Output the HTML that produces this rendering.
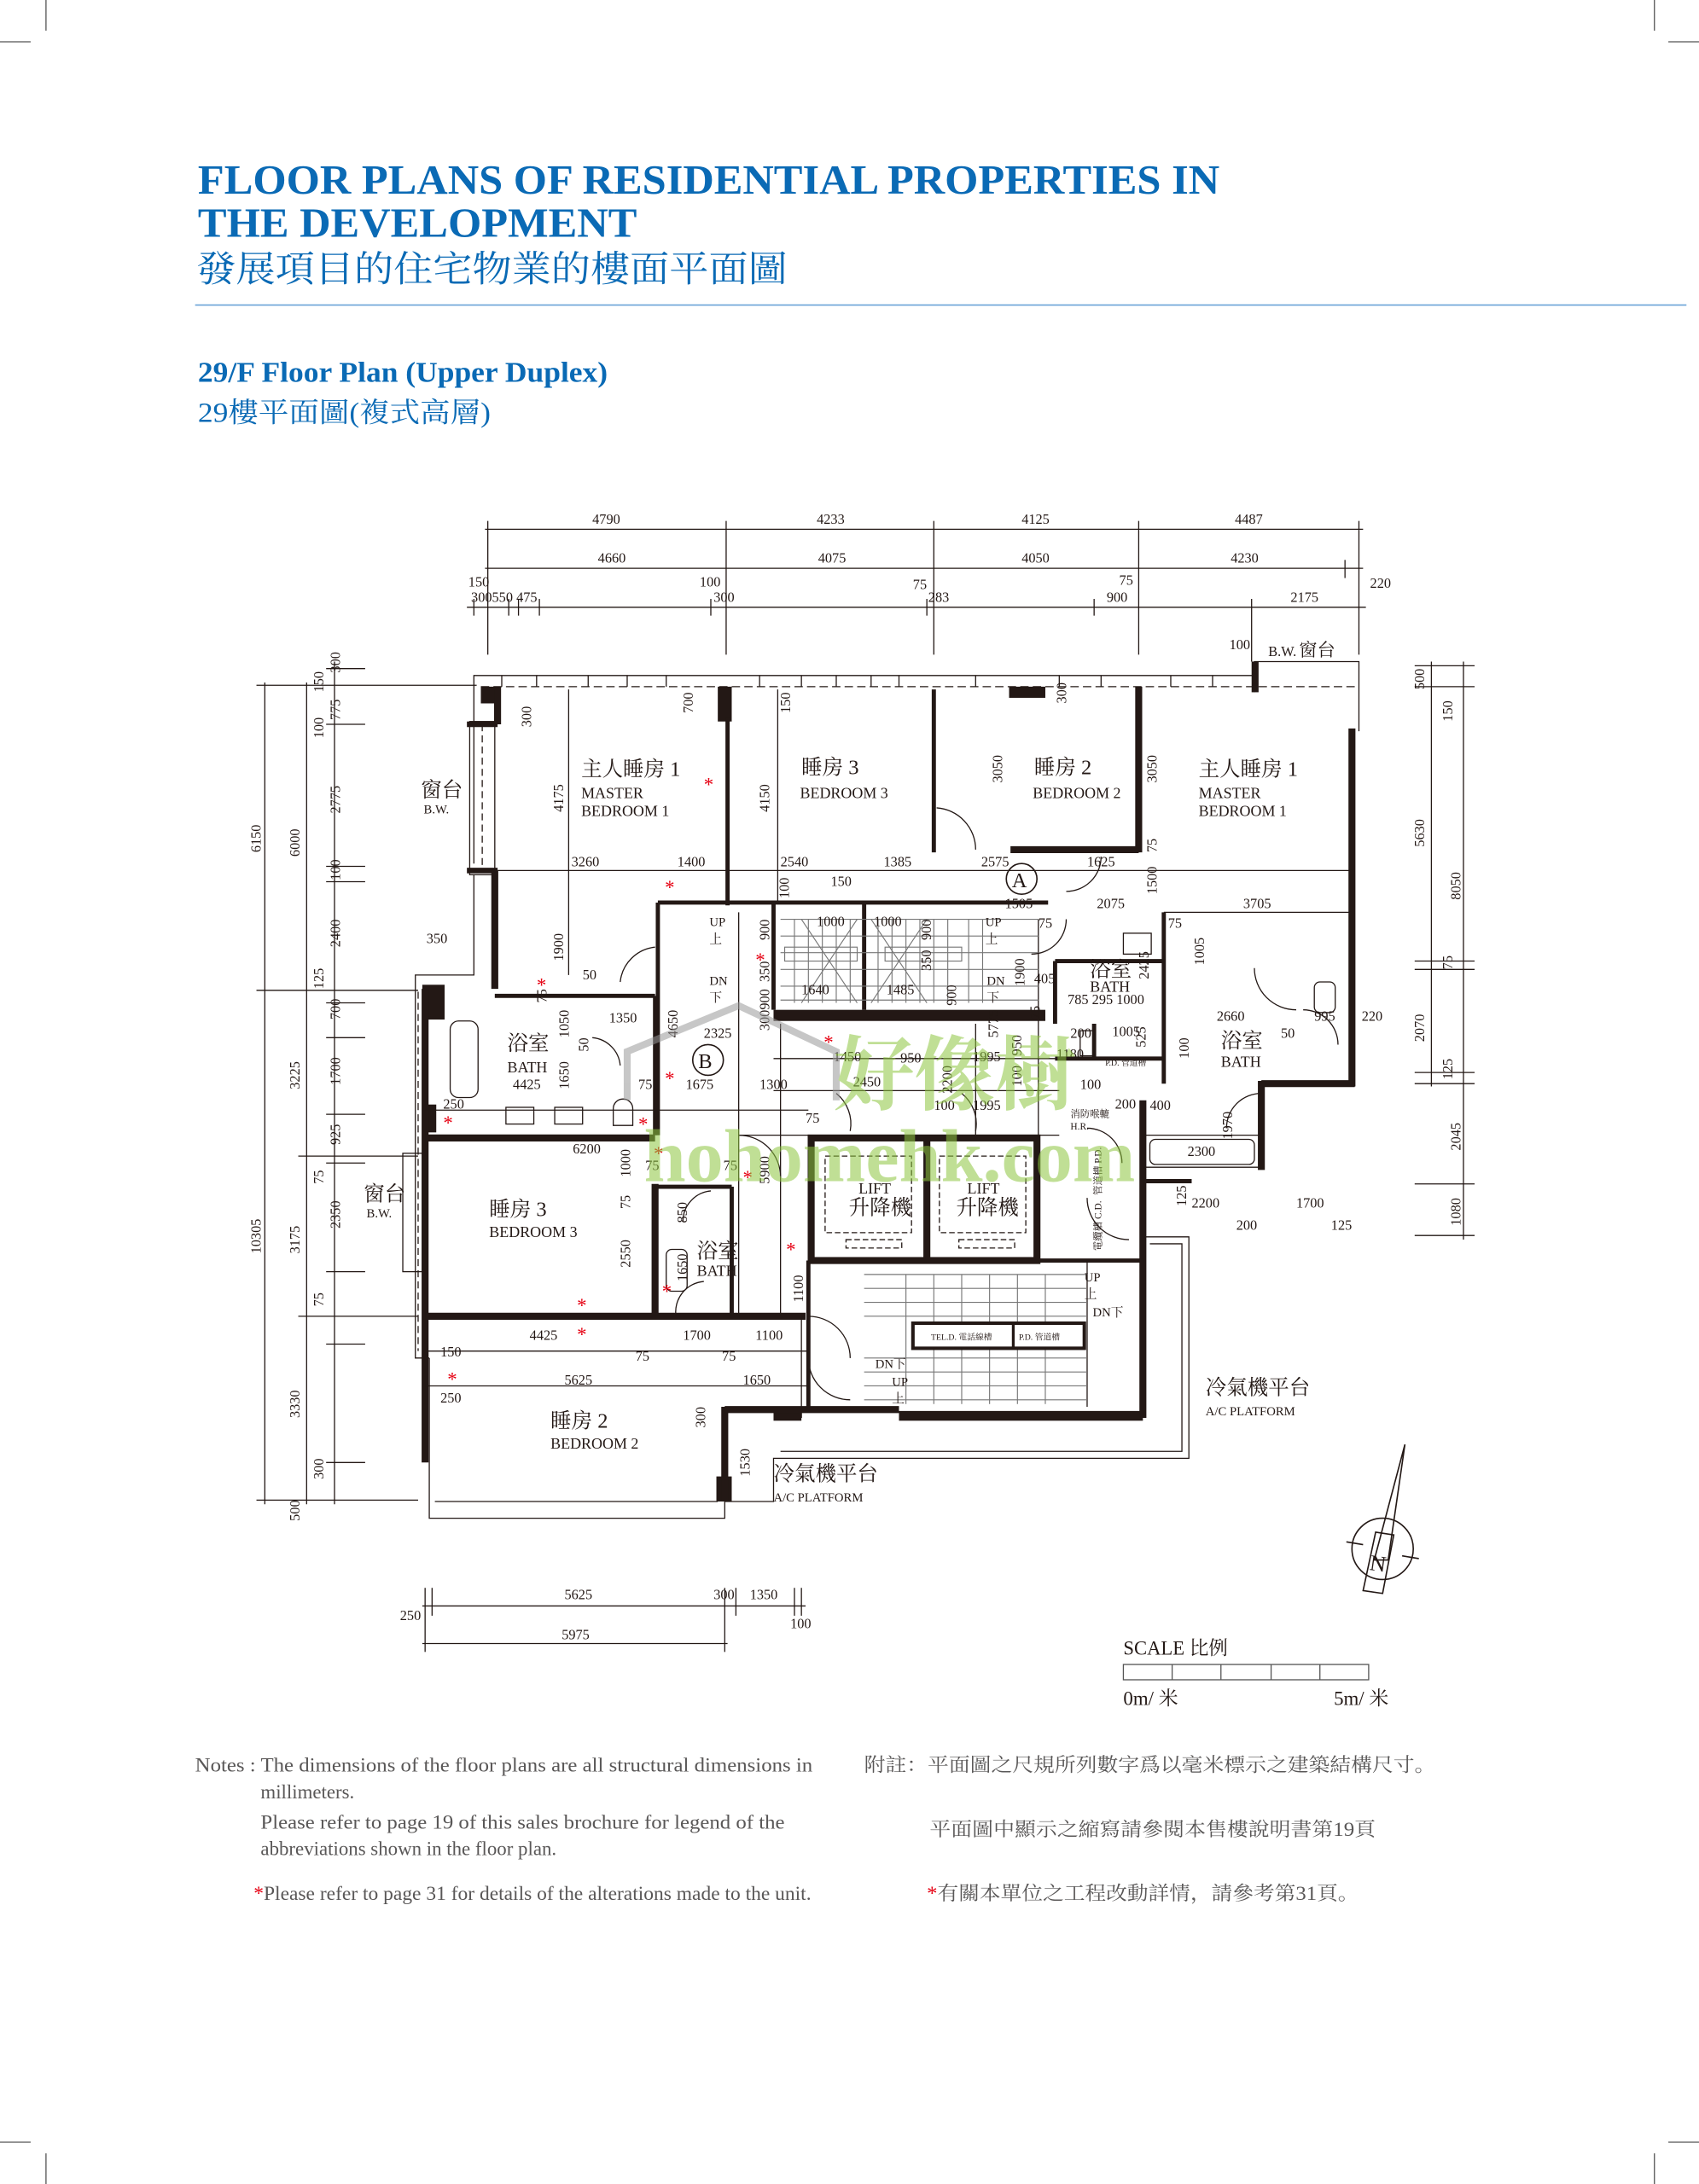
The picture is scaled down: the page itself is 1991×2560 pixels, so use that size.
<!DOCTYPE html>
<html><head><meta charset="utf-8"><style>
html,body{margin:0;padding:0;background:#fff}
svg{display:block}
text{font-family:"Liberation Serif","Noto Serif CJK SC","Noto Sans CJK TC",serif}
.d{font-size:10px;fill:#231815}
.rm{font-size:15px;fill:#231815}
.en{font-size:11px;fill:#231815}
.w{stroke:#231815;stroke-width:5;fill:none}
.w3{stroke:#231815;stroke-width:3;fill:none}
.t{stroke:#231815;stroke-width:0.8;fill:none}
.g{stroke:#777;stroke-width:0.7;fill:none}
.r{fill:#e60012;font-size:14px}
</style></head><body>
<svg width="1991" height="2560" viewBox="0 0 1219 1568" preserveAspectRatio="none" xmlns="http://www.w3.org/2000/svg">
<!-- crop marks -->
<g stroke="#555" stroke-width="0.8">
<line x1="33" y1="0" x2="33" y2="22"/><line x1="0" y1="30" x2="22" y2="30"/>
<line x1="1187" y1="0" x2="1187" y2="22"/><line x1="1197" y1="30" x2="1219" y2="30"/>
<line x1="33" y1="1546" x2="33" y2="1568"/><line x1="0" y1="1538" x2="22" y2="1538"/>
<line x1="1187" y1="1546" x2="1187" y2="1568"/><line x1="1197" y1="1538" x2="1219" y2="1538"/>
</g>
<!-- header -->
<g fill="#0a6ab5" font-weight="bold">
<text x="142" y="139" font-size="30" textLength="733" lengthAdjust="spacingAndGlyphs">FLOOR PLANS OF RESIDENTIAL PROPERTIES IN</text>
<text x="142" y="170" font-size="30" textLength="315" lengthAdjust="spacingAndGlyphs">THE DEVELOPMENT</text>
</g>
<text x="141" y="202" font-size="26" fill="#0a6ab5" textLength="424" lengthAdjust="spacingAndGlyphs">發展項目的住宅物業的樓面平面圖</text>
<line x1="140" y1="219" x2="1210" y2="219" stroke="#6aa3d8" stroke-width="1"/>
<text x="142" y="274" font-size="21" font-weight="bold" fill="#0a6ab5" textLength="294" lengthAdjust="spacingAndGlyphs">29/F Floor Plan (Upper Duplex)</text>
<text x="142" y="303" font-size="20" fill="#0a6ab5" textLength="210" lengthAdjust="spacingAndGlyphs">29樓平面圖(複式高層)</text>

<!-- top dimension chains -->
<g class="t">
<line x1="348" y1="380" x2="978" y2="380"/><line x1="348" y1="408" x2="978" y2="408"/><line x1="335" y1="436" x2="980" y2="436"/>
<line x1="350" y1="374" x2="350" y2="470"/><line x1="521" y1="374" x2="521" y2="470"/><line x1="670" y1="374" x2="670" y2="470"/><line x1="817" y1="374" x2="817" y2="470"/><line x1="975" y1="374" x2="975" y2="470"/><line x1="965" y1="402" x2="965" y2="415"/>
<line x1="340" y1="430" x2="340" y2="442"/><line x1="365" y1="430" x2="365" y2="442"/><line x1="372" y1="430" x2="372" y2="442"/><line x1="387" y1="430" x2="387" y2="442"/><line x1="510" y1="430" x2="510" y2="442"/><line x1="665" y1="430" x2="665" y2="442"/><line x1="785" y1="430" x2="785" y2="442"/><line x1="898" y1="430" x2="898" y2="475"/>
</g>
<g class="d">
<text x="425" y="376">4790</text><text x="586" y="376">4233</text><text x="733" y="376">4125</text><text x="886" y="376">4487</text>
<text x="429" y="404">4660</text><text x="587" y="404">4075</text><text x="733" y="404">4050</text><text x="883" y="404">4230</text>
<text x="336" y="421">150</text><text x="338" y="432">300550 475</text><text x="502" y="421">100</text><text x="512" y="432">300</text><text x="655" y="423">75</text><text x="666" y="432">283</text><text x="803" y="420">75</text><text x="794" y="432">900</text><text x="926" y="432">2175</text><text x="983" y="422">220</text>
<text x="882" y="466">100</text><text x="910" y="471">B.W.</text></g>
<text x="932" y="471" font-size="13" fill="#231815">窗台</text>

<!-- left dimension chains -->
<g class="t">
<line x1="190" y1="490" x2="190" y2="1080"/><line x1="220" y1="490" x2="220" y2="1080"/><line x1="240" y1="475" x2="240" y2="1080"/>
<line x1="184" y1="492" x2="342" y2="492"/><line x1="184" y1="711" x2="300" y2="711"/><line x1="184" y1="1077" x2="300" y2="1077"/>
<line x1="214" y1="830" x2="300" y2="830"/><line x1="214" y1="945" x2="300" y2="945"/>
<line x1="234" y1="480" x2="262" y2="480"/><line x1="234" y1="520" x2="262" y2="520"/><line x1="234" y1="622" x2="262" y2="622"/><line x1="234" y1="633" x2="262" y2="633"/><line x1="234" y1="720" x2="262" y2="720"/><line x1="234" y1="745" x2="262" y2="745"/><line x1="234" y1="800" x2="262" y2="800"/><line x1="234" y1="835" x2="262" y2="835"/><line x1="234" y1="913" x2="262" y2="913"/><line x1="234" y1="965" x2="262" y2="965"/><line x1="234" y1="1050" x2="262" y2="1050"/>
</g>
<g class="d">
<text transform="translate(187,612) rotate(-90)">6150</text><text transform="translate(187,900) rotate(-90)">10305</text>
<text transform="translate(215,615) rotate(-90)">6000</text><text transform="translate(215,782) rotate(-90)">3225</text><text transform="translate(215,900) rotate(-90)">3175</text><text transform="translate(215,1018) rotate(-90)">3330</text><text transform="translate(215,1092) rotate(-90)">500</text>
<text transform="translate(244,483) rotate(-90)">300</text><text transform="translate(232,497) rotate(-90)">150</text><text transform="translate(244,517) rotate(-90)">775</text><text transform="translate(232,530) rotate(-90)">100</text><text transform="translate(244,584) rotate(-90)">2775</text><text transform="translate(244,632) rotate(-90)">100</text><text transform="translate(244,680) rotate(-90)">2400</text><text transform="translate(232,710) rotate(-90)">125</text><text transform="translate(244,732) rotate(-90)">700</text><text transform="translate(244,779) rotate(-90)">1700</text><text transform="translate(244,822) rotate(-90)">925</text><text transform="translate(232,850) rotate(-90)">75</text><text transform="translate(244,882) rotate(-90)">2350</text><text transform="translate(232,938) rotate(-90)">75</text><text transform="translate(232,1062) rotate(-90)">300</text>
</g>

<!-- right dimension chains -->
<g class="t">
<line x1="1027" y1="475" x2="1027" y2="780"/><line x1="1050" y1="475" x2="1050" y2="890"/>
<line x1="1015" y1="478" x2="1058" y2="478"/><line x1="1015" y1="493" x2="1058" y2="493"/><line x1="1015" y1="690" x2="1058" y2="690"/><line x1="1015" y1="696" x2="1058" y2="696"/><line x1="1015" y1="770" x2="1058" y2="770"/><line x1="1015" y1="778" x2="1058" y2="778"/><line x1="1015" y1="850" x2="1058" y2="850"/><line x1="1015" y1="887" x2="1058" y2="887"/>
</g>
<g class="d">
<text transform="translate(1022,495) rotate(-90)">500</text><text transform="translate(1042,518) rotate(-90)">150</text><text transform="translate(1022,608) rotate(-90)">5630</text><text transform="translate(1048,646) rotate(-90)">8050</text><text transform="translate(1042,696) rotate(-90)">75</text><text transform="translate(1022,748) rotate(-90)">2070</text><text transform="translate(1042,775) rotate(-90)">125</text><text transform="translate(1048,826) rotate(-90)">2045</text><text transform="translate(1048,880) rotate(-90)">1080</text>
</g>

<!-- bottom dimension chains -->
<g class="t">
<line x1="303" y1="1153" x2="578" y2="1153"/><line x1="303" y1="1180" x2="522" y2="1180"/>
<line x1="305" y1="1140" x2="305" y2="1186"/><line x1="310" y1="1140" x2="310" y2="1160"/><line x1="520" y1="1140" x2="520" y2="1186"/><line x1="528" y1="1140" x2="528" y2="1160"/><line x1="570" y1="1140" x2="570" y2="1160"/><line x1="575" y1="1140" x2="575" y2="1160"/>
</g>

<!-- PLAN: outer thin lines -->
<g class="t">
<polyline points="340,620 340,485 900,485"/>
<line x1="345" y1="493" x2="975" y2="493" stroke-dasharray="6,3"/>
<polyline points="900,497 900,475 975,475 975,525"/>
<rect x="337" y="518" width="18" height="110"/><line x1="346" y1="520" x2="346" y2="625" stroke-dasharray="5,3"/>
<polyline points="340,628 340,700 298,700 298,975 308,975"/>
<line x1="300" y1="712" x2="300" y2="970" stroke-dasharray="5,3"/>
<rect x="289" y="828" width="14" height="85"/>
<polyline points="308,975 308,1090 520,1090 520,1078"/>
<line x1="312" y1="1078" x2="515" y2="1078"/>
<polyline points="820,888 853,888 853,1047 555,1047 555,1078 520,1078"/>
<polyline points="825,893 848,893 848,1042 560,1042"/>
<line x1="575" y1="945" x2="575" y2="1018"/>
</g>
<!-- ticks along top -->
<g class="t"><line x1="360" y1="485" x2="360" y2="493"/><line x1="385" y1="485" x2="385" y2="493"/><line x1="422" y1="485" x2="422" y2="493"/><line x1="450" y1="485" x2="450" y2="493"/><line x1="478" y1="485" x2="478" y2="493"/><line x1="545" y1="485" x2="545" y2="493"/><line x1="575" y1="485" x2="575" y2="493"/><line x1="600" y1="485" x2="600" y2="493"/><line x1="625" y1="485" x2="625" y2="493"/><line x1="645" y1="485" x2="645" y2="493"/><line x1="700" y1="485" x2="700" y2="493"/><line x1="760" y1="485" x2="760" y2="493"/><line x1="790" y1="485" x2="790" y2="493"/><line x1="840" y1="485" x2="840" y2="493"/><line x1="870" y1="485" x2="870" y2="493"/></g>

<!-- thick walls -->
<g fill="#231815">
<rect x="345" y="493" width="14" height="12"/><rect x="335" y="518" width="22" height="4"/><rect x="335" y="623" width="22" height="4"/>
<rect x="515" y="493" width="10" height="25"/><rect x="724" y="493" width="26" height="8"/><rect x="898" y="475" width="5" height="22"/>
<rect x="303" y="707" width="16" height="25"/><rect x="303" y="793" width="10" height="20"/>
<rect x="514" y="1060" width="11" height="18"/>
<rect x="555" y="725" width="195" height="8"/>
<rect x="645" y="1013" width="175" height="7"/>
<rect x="555" y="1013" width="20" height="7"/>
</g>
<g class="w">
<line x1="357" y1="493" x2="357" y2="520"/><line x1="355" y1="625" x2="355" y2="710"/>
<line x1="305" y1="710" x2="305" y2="1050"/>
<line x1="305" y1="817" x2="470" y2="817"/>
<line x1="305" y1="945" x2="578" y2="945"/>
<line x1="520" y1="1010" x2="520" y2="1078"/><line x1="520" y1="1012" x2="645" y2="1012"/>
<line x1="970" y1="523" x2="970" y2="780"/>
<line x1="905" y1="778" x2="972" y2="778"/><line x1="905" y1="776" x2="905" y2="840"/>
<line x1="820" y1="790" x2="820" y2="1018"/>
<rect x="582" y="817" width="162" height="88"/>
<line x1="665" y1="817" x2="665" y2="905"/>
<line x1="817" y1="493" x2="817" y2="612"/><line x1="725" y1="610" x2="817" y2="610"/>
<line x1="470" y1="850" x2="470" y2="945"/>
</g>
<g class="w3">
<line x1="522" y1="515" x2="522" y2="650"/><line x1="670" y1="495" x2="670" y2="612"/>
<line x1="472" y1="648" x2="752" y2="648"/><line x1="472" y1="648" x2="472" y2="815"/>
<line x1="555" y1="648" x2="555" y2="725"/><line x1="620" y1="648" x2="620" y2="725"/>
<line x1="835" y1="655" x2="835" y2="778"/>
<line x1="757" y1="690" x2="835" y2="690"/><line x1="757" y1="690" x2="757" y2="735"/>
<line x1="470" y1="852" x2="525" y2="852"/><line x1="525" y1="852" x2="525" y2="945"/>
<line x1="820" y1="848" x2="855" y2="848"/>
<line x1="745" y1="905" x2="820" y2="905"/>
<line x1="580" y1="905" x2="580" y2="1010"/>
<line x1="355" y1="715" x2="470" y2="715"/><line x1="470" y1="715" x2="470" y2="815"/>
<line x1="757" y1="760" x2="835" y2="760"/><line x1="785" y1="735" x2="785" y2="760"/>
</g>
<!-- thin interior grid / stairs -->
<g class="t">
<line x1="357" y1="625" x2="970" y2="625"/>
<line x1="835" y1="655" x2="970" y2="655"/>
<line x1="305" y1="797" x2="580" y2="797"/>
<line x1="305" y1="970" x2="580" y2="970"/><line x1="305" y1="995" x2="580" y2="995"/>
<line x1="555" y1="760" x2="760" y2="760"/>
<line x1="555" y1="783" x2="760" y2="783"/>
<line x1="530" y1="815" x2="760" y2="815"/>
<line x1="820" y1="815" x2="905" y2="815"/><line x1="820" y1="838" x2="905" y2="838"/>
<line x1="408" y1="495" x2="408" y2="700"/><line x1="558" y1="495" x2="558" y2="648"/>
<line x1="530" y1="655" x2="530" y2="945"/><line x1="560" y1="735" x2="560" y2="945"/>
<line x1="700" y1="735" x2="700" y2="815"/><line x1="745" y1="660" x2="745" y2="815"/>
<line x1="780" y1="905" x2="780" y2="1010"/>
</g>
<g class="g">
<line x1="560" y1="660" x2="745" y2="660"/><line x1="560" y1="672" x2="745" y2="672"/><line x1="560" y1="684" x2="745" y2="684"/><line x1="560" y1="696" x2="745" y2="696"/><line x1="560" y1="708" x2="745" y2="708"/><line x1="560" y1="718" x2="745" y2="718"/>
<rect x="563" y="680" width="52" height="10"/><rect x="635" y="680" width="55" height="10"/>
<line x1="570" y1="660" x2="570" y2="720"/><line x1="580" y1="660" x2="580" y2="720"/><line x1="590" y1="660" x2="590" y2="720"/><line x1="600" y1="660" x2="600" y2="720"/><line x1="610" y1="660" x2="610" y2="720"/>
<line x1="630" y1="660" x2="630" y2="720"/><line x1="640" y1="660" x2="640" y2="720"/><line x1="650" y1="660" x2="650" y2="720"/><line x1="660" y1="660" x2="660" y2="720"/><line x1="670" y1="660" x2="670" y2="720"/><line x1="680" y1="660" x2="680" y2="720"/><line x1="695" y1="660" x2="695" y2="720"/><line x1="705" y1="660" x2="705" y2="720"/>
<line x1="575" y1="660" x2="615" y2="720"/><line x1="615" y1="660" x2="575" y2="720"/><line x1="625" y1="660" x2="665" y2="720"/><line x1="665" y1="660" x2="625" y2="720"/>
<line x1="620" y1="915" x2="780" y2="915"/><line x1="620" y1="925" x2="780" y2="925"/><line x1="620" y1="935" x2="780" y2="935"/><line x1="620" y1="945" x2="780" y2="945"/><line x1="620" y1="975" x2="780" y2="975"/><line x1="620" y1="985" x2="780" y2="985"/><line x1="620" y1="995" x2="780" y2="995"/><line x1="620" y1="1005" x2="780" y2="1005"/>
<line x1="650" y1="915" x2="650" y2="1008"/><line x1="670" y1="915" x2="670" y2="1008"/><line x1="690" y1="915" x2="690" y2="1008"/><line x1="710" y1="915" x2="710" y2="1008"/><line x1="730" y1="915" x2="730" y2="1008"/><line x1="750" y1="915" x2="750" y2="1008"/>
</g>
<rect x="655" y="950" width="123" height="18" fill="#fff" stroke="#231815" stroke-width="2.5"/>
<line x1="727" y1="950" x2="727" y2="968" stroke="#231815" stroke-width="2"/>
<!-- lift inner dashed -->
<g class="t" stroke-dasharray="4,2"><rect x="592" y="830" width="62" height="55"/><rect x="674" y="830" width="62" height="55"/><rect x="607" y="890" width="40" height="6"/><rect x="688" y="890" width="40" height="6"/></g>
<!-- doors -->
<g class="t">
<path d="M672,580 A30,30 0 0 1 700,610"/><path d="M470,680 A28,28 0 0 0 445,705"/><path d="M530,815 A30,30 0 0 1 560,845"/>
<path d="M600,785 A28,28 0 0 1 610,812"/><path d="M690,785 A28,28 0 0 1 700,812"/><path d="M780,810 A25,25 0 0 1 805,835"/>
<path d="M580,945 A30,30 0 0 1 610,975"/><path d="M580,975 A30,30 0 0 0 610,1005"/><path d="M780,860 A30,30 0 0 0 810,890"/>
<path d="M900,695 A30,30 0 0 0 930,725"/><path d="M905,785 A25,25 0 0 0 880,810"/><path d="M935,725 A25,25 0 0 1 960,750"/>
<path d="M510,855 A22,22 0 0 0 490,877"/><path d="M505,920 A22,22 0 0 0 485,945"/><path d="M425,745 A22,22 0 0 1 445,765"/>
<path d="M765,660 A25,25 0 0 1 740,685"/><path d="M790,615 A25,25 0 0 1 765,640"/>
</g>
<!-- fixtures -->
<g class="t">
<rect x="323" y="733" width="20" height="55" rx="6"/><rect x="363" y="795" width="20" height="12"/><rect x="398" y="795" width="20" height="12"/><path d="M440,808 v-12 a7,7 0 0 1 14,0 v12z"/>
<rect x="943" y="705" width="15" height="22" rx="4"/><rect x="806" y="670" width="20" height="15"/>
<rect x="825" y="818" width="75" height="18" rx="4"/>
<rect x="478" y="897" width="15" height="30" rx="4"/>
<rect x="775" y="740" width="10" height="18"/>
</g>
<circle cx="733" cy="631" r="11" fill="none" stroke="#231815" stroke-width="1"/><text x="726" y="637" font-size="15" fill="#231815" font-family="Liberation Sans">A</text>
<circle cx="508" cy="761" r="11" fill="none" stroke="#231815" stroke-width="1"/><text x="501" y="767" font-size="15" fill="#231815" font-family="Liberation Sans">B</text>

<!-- room labels -->
<g class="rm">
<text x="417" y="557">主人睡房 1</text><text x="575" y="556">睡房 3</text><text x="742" y="556">睡房 2</text><text x="860" y="557">主人睡房 1</text>
<text x="302" y="572">窗台</text><text x="261" y="862">窗台</text>
<text x="364" y="754">浴室</text><text x="782" y="701">浴室</text><text x="876" y="752">浴室</text><text x="500" y="903">浴室</text>
<text x="351" y="873">睡房 3</text><text x="395" y="1025">睡房 2</text>
<text x="865" y="1001">冷氣機平台</text><text x="555" y="1063">冷氣機平台</text>
<text x="609" y="872">升降機</text><text x="686" y="872">升降機</text>
</g>
<g class="en">
<text x="417" y="573">MASTER</text><text x="417" y="586">BEDROOM 1</text><text x="574" y="573">BEDROOM 3</text><text x="741" y="573">BEDROOM 2</text><text x="860" y="573">MASTER</text><text x="860" y="586">BEDROOM 1</text>
<text x="364" y="770">BATH</text><text x="782" y="712">BATH</text><text x="876" y="766">BATH</text><text x="500" y="916">BATH</text>
<text x="351" y="888">BEDROOM 3</text><text x="395" y="1040">BEDROOM 2</text>
<text x="616" y="857">LIFT</text><text x="694" y="857">LIFT</text>
</g>
<g font-size="9" fill="#231815"><text x="304" y="584">B.W.</text><text x="263" y="874">B.W.</text><text x="865" y="1016">A/C PLATFORM</text><text x="555" y="1078">A/C PLATFORM</text>
<text x="509" y="665">UP</text><text x="509" y="677">上</text><text x="707" y="665">UP</text><text x="707" y="677">上</text><text x="509" y="707">DN</text><text x="509" y="719">下</text><text x="708" y="707">DN</text><text x="708" y="719">下</text>
<text x="778" y="920">UP</text><text x="778" y="932">上</text><text x="784" y="945">DN下</text><text x="628" y="982">DN下</text><text x="640" y="995">UP</text><text x="640" y="1007">上</text>
<text x="768" y="802" font-size="7">消防喉轆</text><text x="768" y="811" font-size="7">H.R.</text>
</g>
<g font-size="6" fill="#231815"><text x="668" y="962">TEL.D. 電話線槽</text><text x="731" y="962">P.D. 管道槽</text><text x="793" y="765">P.D. 管道槽</text></g>

<!-- interior dims -->
<g class="d">
<text x="410" y="622">3260</text><text x="486" y="622">1400</text><text x="560" y="622">2540</text><text x="634" y="622">1385</text><text x="704" y="622">2575</text><text x="780" y="622">1625</text><text x="596" y="636">150</text>
<text x="721" y="652">1505</text><text x="787" y="652">2075</text><text x="892" y="652">3705</text><text x="745" y="666">75</text><text x="838" y="666">75</text>
<text x="586" y="665">1000</text><text x="627" y="665">1000</text><text x="575" y="714">1640</text><text x="636" y="714">1485</text>
<text x="306" y="677">350</text><text x="418" y="703">50</text><text x="437" y="734">1350</text><text x="368" y="782">4425</text><text x="505" y="745">2325</text><text x="492" y="782">1675</text><text x="545" y="782">1300</text><text x="458" y="782">75</text>
<text x="598" y="762">1450</text><text x="646" y="763">950</text><text x="612" y="780">2450</text><text x="698" y="762">1995</text><text x="670" y="797">100</text><text x="698" y="797">1995</text>
<text x="742" y="706">405</text><text x="766" y="721">785 295 1000</text><text x="768" y="745">200</text><text x="798" y="744">1005</text><text x="758" y="760">1180</text><text x="775" y="782">100</text><text x="800" y="796">200</text><text x="825" y="797">400</text>
<text x="873" y="733">2660</text><text x="919" y="745">50</text><text x="943" y="733">995</text><text x="977" y="733">220</text><text x="852" y="830">2300</text>
<text x="855" y="867">2200</text><text x="930" y="867">1700</text><text x="887" y="883">200</text><text x="955" y="883">125</text>
<text x="411" y="828">6200</text><text x="318" y="796">250</text><text x="578" y="806">75</text>
<text x="380" y="962">4425</text><text x="490" y="962">1700</text><text x="542" y="962">1100</text><text x="456" y="977">75</text><text x="518" y="977">75</text><text x="316" y="974">150</text>
<text x="405" y="994">5625</text><text x="533" y="994">1650</text><text x="316" y="1007">250</text>
<text x="463" y="840">75</text><text x="519" y="840">75</text>
<text x="405" y="1148">5625</text><text x="512" y="1148">300</text><text x="538" y="1148">1350</text><text x="287" y="1163">250</text><text x="567" y="1169">100</text><text x="403" y="1177">5975</text>
</g>
<g class="d">
<text transform="translate(381,522) rotate(-90)">300</text><text transform="translate(497,512) rotate(-90)">700</text><text transform="translate(567,512) rotate(-90)">150</text><text transform="translate(765,505) rotate(-90)">300</text>
<text transform="translate(404,583) rotate(-90)">4175</text><text transform="translate(552,583) rotate(-90)">4150</text><text transform="translate(719,562) rotate(-90)">3050</text><text transform="translate(830,562) rotate(-90)">3050</text><text transform="translate(830,612) rotate(-90)">75</text><text transform="translate(830,642) rotate(-90)">1500</text>
<text transform="translate(404,690) rotate(-90)">1900</text><text transform="translate(566,645) rotate(-90)">100</text><text transform="translate(392,720) rotate(-90)">75</text>
<text transform="translate(552,675) rotate(-90)">900</text><text transform="translate(552,705) rotate(-90)">350</text><text transform="translate(552,725) rotate(-90)">900</text><text transform="translate(552,740) rotate(-90)">300</text>
<text transform="translate(668,675) rotate(-90)">900</text><text transform="translate(668,697) rotate(-90)">350</text><text transform="translate(686,722) rotate(-90)">900</text>
<text transform="translate(735,708) rotate(-90)">1900</text><text transform="translate(716,745) rotate(-90)">5775</text><text transform="translate(746,732) rotate(-90)">75</text>
<text transform="translate(824,703) rotate(-90)">2425</text><text transform="translate(864,693) rotate(-90)">1005</text><text transform="translate(853,760) rotate(-90)">100</text><text transform="translate(822,752) rotate(-90)">525</text>
<text transform="translate(408,745) rotate(-90)">1050</text><text transform="translate(408,782) rotate(-90)">1650</text><text transform="translate(422,755) rotate(-90)">50</text><text transform="translate(486,745) rotate(-90)">4650</text>
<text transform="translate(683,785) rotate(-90)">2200</text><text transform="translate(733,780) rotate(-90)">100</text><text transform="translate(733,758) rotate(-90)">950</text>
<text transform="translate(452,845) rotate(-90)">1000</text><text transform="translate(452,868) rotate(-90)">75</text><text transform="translate(452,910) rotate(-90)">2550</text><text transform="translate(552,850) rotate(-90)">5900</text>
<text transform="translate(493,878) rotate(-90)">850</text><text transform="translate(493,920) rotate(-90)">1650</text><text transform="translate(576,935) rotate(-90)">1100</text>
<text transform="translate(884,818) rotate(-90)">1970</text><text transform="translate(851,866) rotate(-90)">125</text>
<text transform="translate(506,1025) rotate(-90)">300</text><text transform="translate(538,1060) rotate(-90)">1530</text>
</g>
<g font-size="7" fill="#231815"><text transform="translate(790,858) rotate(-90)">管道槽 P.D.</text><text transform="translate(790,898) rotate(-90)">電纜槽 C.D.</text></g>

<!-- red asterisks -->
<g class="r"><text x="505" y="568">*</text><text x="477" y="642">*</text><text x="385" y="712">*</text><text x="542" y="694">*</text><text x="591" y="753">*</text><text x="477" y="779">*</text><text x="318" y="811">*</text><text x="458" y="812">*</text><text x="469" y="833">*</text><text x="533" y="850">*</text><text x="564" y="902">*</text><text x="475" y="932">*</text><text x="414" y="942">*</text><text x="414" y="963">*</text><text x="321" y="995">*</text></g>

<!-- watermark -->
<g opacity="0.55">
<polyline points="450,790 450,755 530,722 600,755 600,790" fill="none" stroke="#999" stroke-width="5"/>
<text x="598" y="792" font-size="58" fill="#8dc63f" font-family="Noto Sans CJK SC,sans-serif" font-weight="bold">好像樹</text>
<text x="462" y="848" font-size="54" fill="#8dc63f" font-family="Liberation Sans,sans-serif" font-weight="bold">hohomehk.com</text>
</g>

<!-- compass -->
<g stroke="#231815" stroke-width="1" fill="none">
<circle cx="992" cy="1112" r="22"/>
<line x1="966" y1="1107" x2="978" y2="1109"/><line x1="1006" y1="1117" x2="1018" y2="1119"/>
<polyline points="1008,1037 996,1120 986,1120 1008,1037"/>
<polygon points="987,1100 1000,1102 992,1144 978,1142"/>
</g>
<text x="983" y="1128" font-size="16" fill="#231815" font-family="Liberation Sans" transform="rotate(8,990,1122)">N</text>

<!-- scale -->
<text x="806" y="1188" font-size="14" fill="#231815" textLength="75" lengthAdjust="spacingAndGlyphs">SCALE 比例</text>
<g stroke="#555" stroke-width="0.8" fill="none"><rect x="806" y="1195" width="176" height="11"/><line x1="841" y1="1195" x2="841" y2="1206"/><line x1="876" y1="1195" x2="876" y2="1206"/><line x1="912" y1="1195" x2="912" y2="1206"/><line x1="947" y1="1195" x2="947" y2="1206"/></g>
<text x="806" y="1224" font-size="14" fill="#231815">0m/ 米</text><text x="957" y="1224" font-size="14" fill="#231815">5m/ 米</text>

<!-- notes -->
<g font-size="14" fill="#595757">
<text x="140" y="1272" textLength="443" lengthAdjust="spacingAndGlyphs">Notes : The dimensions of the floor plans are all structural dimensions in</text>
<text x="187" y="1291">millimeters.</text>
<text x="187" y="1313" textLength="376" lengthAdjust="spacingAndGlyphs">Please refer to page 19 of this sales brochure for legend of the</text>
<text x="187" y="1332">abbreviations shown in the floor plan.</text>
<text x="182" y="1364" textLength="400" lengthAdjust="spacingAndGlyphs"><tspan fill="#e60012">*</tspan>Please refer to page 31 for details of the alterations made to the unit.</text>
<text x="620" y="1272" textLength="410" lengthAdjust="spacingAndGlyphs">附註：平面圖之尺規所列數字爲以毫米標示之建築結構尺寸。</text>
<text x="667" y="1318" textLength="320" lengthAdjust="spacingAndGlyphs">平面圖中顯示之縮寫請參閱本售樓說明書第19頁</text>
<text x="665" y="1364" textLength="310" lengthAdjust="spacingAndGlyphs"><tspan fill="#e60012">*</tspan>有關本單位之工程改動詳情，請參考第31頁。</text>
</g>
</svg>
</body></html>
